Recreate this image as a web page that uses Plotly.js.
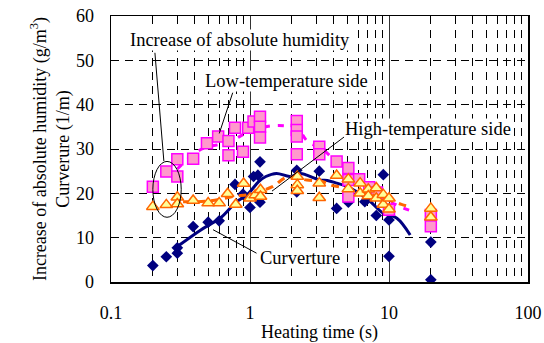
<!DOCTYPE html>
<html>
<head>
<meta charset="utf-8">
<script src="https://cdn.plot.ly/plotly-3.0.1.min.js"></script>
<style>html,body{margin:0;padding:0;background:#fff;}#chart{width:544px;height:343px;}</style>
</head>
<body>
<div id="chart"></div>
<script>
// Curvature (navy diamonds)
const curvX = [0.2, 0.25, 0.3, 0.3, 0.39, 0.5, 0.6, 0.78, 0.89, 1.0, 1.06, 1.14, 1.18, 1.18, 2.17, 2.17, 3.15, 4.2, 5.1, 6.7, 8.1, 9.1, 10, 10, 20, 20];
const curvY = [3.7, 5.7, 7.7, 6.5, 12.5, 13.5, 13.8, 22.0, 19.8, 16.8, 23.8, 24.1, 27.1, 18.0, 25.2, 20.3, 25.0, 16.6, 18.0, 18.1, 15.0, 24.2, 14.0, 5.8, 9.0, 0.5];
// Curvature moving-average line
const curvLineX = [0.3, 0.44, 0.61, 0.8, 0.95, 1.15, 1.3, 1.55, 1.94, 2.3, 2.56, 3.17, 3.6, 4.2, 5.0, 6.9, 9.1, 11.4, 14.2];
const curvLineY = [8.0, 11.7, 14.4, 18.1, 19.6, 22.6, 23.8, 24.5, 23.8, 24.5, 24.1, 23.0, 22.9, 22.3, 21.5, 18.9, 15.5, 14.4, 10.6];

// Low-temperature side (pink squares)
const lowX = [0.2, 0.25, 0.3, 0.3, 0.39, 0.49, 0.59, 0.7, 0.7, 0.78, 0.89, 0.97, 1.06, 1.18, 1.18, 1.18, 2.17, 2.17, 2.17, 2.17, 3.15, 3.15, 4.2, 5.1, 5.1, 5.1, 6.1, 7.2, 8.2, 10, 20, 20];
const lowY = [21.5, 24.9, 23.8, 27.7, 27.8, 31.3, 32.8, 31.8, 28.6, 34.8, 29.4, 34.8, 36.2, 37.3, 35.0, 32.6, 36.3, 34.3, 32.8, 28.8, 30.5, 28.8, 27.2, 25.7, 23.0, 19.3, 23.2, 21.4, 20.2, 16.3, 12.6, 15.1];
const lowLineX = [0.3, 0.45, 0.7, 1.0, 1.55, 2.2, 2.6, 3.3, 4.2, 5.2, 7.0, 9.0, 12.0, 14.0];
const lowLineY = [25.5, 30.0, 31.5, 34.0, 35.3, 34.5, 31.7, 30.0, 27.0, 24.0, 21.5, 19.0, 17.0, 16.2];

// High-temperature side (orange triangles)
const highX = [0.2, 0.25, 0.3, 0.3, 0.39, 0.5, 0.6, 0.69, 0.79, 0.9, 1.0, 1.09, 1.19, 1.19, 2.19, 2.19, 2.19, 3.15, 3.15, 4.2, 5.1, 5.1, 6.2, 6.2, 7.1, 7.1, 8.1, 8.1, 9.1, 9.1, 10, 10, 20, 20];
const highY = [17.0, 17.4, 19.1, 17.6, 18.4, 17.8, 17.8, 19.9, 17.5, 22.2, 18.9, 19.6, 20.8, 19.3, 23.8, 21.9, 20.6, 22.3, 19.0, 24.0, 23.2, 21.0, 22.3, 20.0, 20.9, 19.4, 21.2, 18.9, 19.7, 17.5, 18.9, 16.4, 16.6, 14.6];
const highLineX = [0.33, 0.52, 0.76, 1.0, 1.45, 1.84, 2.56, 3.35, 4.0, 5.0, 7.0, 9.0, 12.3, 14.0];
const highLineY = [18.1, 18.3, 19.3, 19.8, 21.5, 23.6, 23.0, 22.6, 21.7, 21.2, 20.0, 19.0, 17.5, 17.0];

const xTicks = [0.1, 1, 10, 100];
const xTickText = ['0.1', '1', '10', '100'];

const serif = '"Liberation Serif", "Times New Roman", serif';
const fs = 18;

const traces = [
  {x: curvLineX, y: curvLineY, mode: 'lines', line: {color: '#000080', width: 3, shape: 'spline'}, hoverinfo: 'skip'},
  {x: curvX, y: curvY, mode: 'markers', marker: {symbol: 'diamond', size: 9, color: '#000080'}},
  {x: lowLineX, y: lowLineY, mode: 'lines', line: {color: '#FF00FF', width: 3, dash: '6px,8px', shape: 'spline'}},
  {x: lowX, y: lowY, mode: 'markers', marker: {symbol: 'square', size: 11, color: '#FF99CC', line: {color: '#FF00FF', width: 1.5}}},
  {x: highLineX, y: highLineY, mode: 'lines', line: {color: '#FF6600', width: 3, dash: '8px,6px', shape: 'spline'}},
  {x: highX, y: highY, mode: 'markers', marker: {symbol: 'triangle-up', size: 11, color: '#FFFF99', line: {color: '#FF6600', width: 1.5}}}
];

const layout = {
  width: 544, height: 343,
  margin: {l: 111, r: 16, t: 16, b: 61},
  paper_bgcolor: '#fff', plot_bgcolor: '#fff',
  showlegend: false,
  font: {family: serif, size: fs, color: '#000'},
  xaxis: {
    type: 'log', range: [-1, 2],
    tickvals: xTicks, ticktext: xTickText,
    showline: true, mirror: true, linecolor: '#000', linewidth: 1.5,
    showgrid: true, gridcolor: '#333', gridwidth: 1,
    ticks: '', ticklen: 0, ticklabelstandoff: 14,
    minor: {dtick: 'D1', showgrid: true, gridcolor: '#000', gridwidth: 1, griddash: '8px,6px', ticks: ''},
    zeroline: false,
    tickfont: {family: serif, size: fs},
    title: {text: 'Heating time (s)', font: {family: serif, size: fs}, standoff: 22},
    automargin: false
  },
  yaxis: {
    range: [0, 60], dtick: 10,
    showline: true, mirror: true, linecolor: '#000', linewidth: 1.5,
    showgrid: true, gridcolor: '#000', gridwidth: 1, griddash: '8px,6px',
    ticks: 'inside', ticklen: 5, tickcolor: '#000', ticklabelstandoff: 12,
    zeroline: false,
    tickfont: {family: serif, size: fs},
    title: {text: 'Increase of absolute humidity (g/m<sup>3</sup>)<br>Curverure (1/m)', font: {family: serif, size: fs}, standoff: 1},
    automargin: false
  },
  shapes: [
    {type: 'circle', xref: 'x', yref: 'y', x0: 0.2, x1: 0.32, y0: 14.6, y1: 27.2, line: {color: '#000', width: 1}},
    {type: 'line', xref: 'x', yref: 'y', x0: 0.207, y0: 51.7, x1: 0.24, y1: 27.3, line: {color: '#000', width: 1}},
    {type: 'line', xref: 'x', yref: 'y', x0: 0.751, y0: 42.7, x1: 0.601, y1: 33.5, line: {color: '#000', width: 1}},
    {type: 'line', xref: 'x', yref: 'y', x0: 4.75, y0: 32.7, x1: 1.44, y1: 20.5, line: {color: '#000', width: 1}},
    {type: 'line', xref: 'x', yref: 'y', x0: 0.542, y0: 11.8, x1: 1.114, y1: 6.5, line: {color: '#000', width: 1}}
  ],
  annotations: [
    {text: 'Increase of absolute humidity', xref: 'x', yref: 'y', x: -0.072, y: 54.6, showarrow: false, bgcolor: '#fff', borderpad: 0, font: {family: serif, size: 18.5}},
    {text: 'Low-temperature side', xref: 'x', yref: 'y', x: 0.259, y: 45.3, showarrow: false, bgcolor: '#fff', borderpad: 0, font: {family: serif, size: 18.5}},
    {text: 'High-temperature side', xref: 'x', yref: 'y', x: 1.281, y: 34.5, showarrow: false, bgcolor: '#fff', borderpad: 0, font: {family: serif, size: 18.5}},
    {text: 'Curverture', xref: 'x', yref: 'y', x: 0.36, y: 5.5, showarrow: false, bgcolor: '#fff', borderpad: 0, font: {family: serif, size: 18.5}}
  ]
};

Plotly.newPlot('chart', traces, layout, {displayModeBar: false, staticPlot: true});
</script>
</body>
</html>
